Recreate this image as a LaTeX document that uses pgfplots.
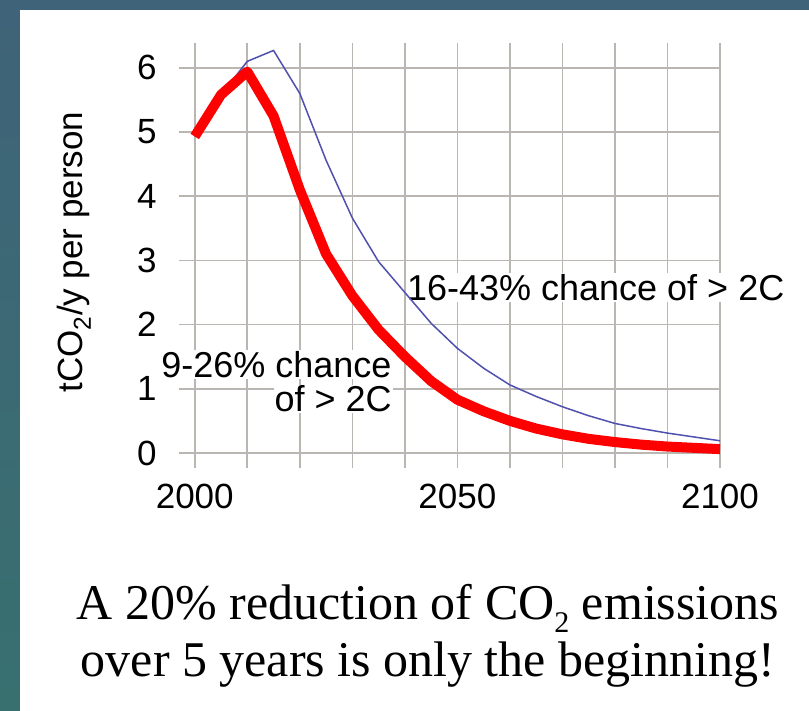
\documentclass[border=0pt]{standalone}
\usepackage{fontspec}
\setmainfont{Liberation Serif}
\newfontfamily\hv{Liberation Sans}
\usepackage{pgfplots}
\pgfplotsset{compat=1.18}
\definecolor{bgtop}{RGB}{63,99,120}
\definecolor{bgbot}{RGB}{56,112,112}
\definecolor{gridgray}{RGB}{186,182,178}
\definecolor{blueline}{RGB}{80,80,175}
\begin{document}
\begin{tikzpicture}
\shade[top color=bgtop,bottom color=bgbot] (0,-3pt) rectangle (812pt,710pt);
\fill[white] (20pt,-3pt) rectangle (812pt,700pt);
\begin{axis}[
  at={(179pt,242pt)}, anchor=south west,
  scale only axis, width=541pt, height=425pt,
  xmin=1997, xmax=2100, ymin=-0.234, ymax=6.386,
  axis line style={draw=none},
  major tick length=0pt,
  xtick={2000,2010,...,2100},
  xticklabels={2000,,,,,2050,,,,,2100},
  ytick={0,1,...,6},
  grid=major,
  grid style={color=gridgray, line width=1.6pt},
  /pgf/number format/assume math mode=true,
  tick label style={font=\hv\fontsize{35}{40}\selectfont},
  xticklabel style={yshift=-13pt},
  yticklabel style={xshift=-19pt},
  clip=false,
]
\node[anchor=base west, fill=white, inner sep=1pt, font=\hv\fontsize{36}{40}\selectfont] at (axis cs:2040.2,2.38) {16-43\% chance of > 2C};
\node[anchor=base east, fill=white, inner sep=1pt, font=\hv\fontsize{36}{40}\selectfont] at (axis cs:2037.7,1.18) {9-26\% chance};
\node[anchor=base east, fill=white, inner sep=1pt, font=\hv\fontsize{36}{40}\selectfont] at (axis cs:2037.7,0.64) {of > 2C};
\addplot[color=blueline, line width=1.5pt, line join=round] coordinates {
(2000,4.93) (2005,5.58) (2010,6.10) (2015,6.27) (2020,5.60) (2025,4.56)
(2030,3.66) (2035,2.98) (2040,2.50) (2045,2.02) (2050,1.63) (2055,1.32)
(2060,1.06) (2065,0.88) (2070,0.72) (2075,0.58) (2080,0.46) (2085,0.38)
(2090,0.31) (2095,0.25) (2100,0.19)
};
\addplot[color=red, line width=10pt, line join=round] coordinates {
(2000,4.93) (2005,5.58) (2010,5.94) (2015,5.25) (2020,4.10) (2025,3.10)
(2030,2.45) (2035,1.92) (2040,1.50) (2045,1.12) (2050,0.83) (2055,0.65)
(2060,0.50) (2065,0.38) (2070,0.29) (2075,0.22) (2080,0.17) (2085,0.13)
(2090,0.10) (2095,0.08) (2100,0.06)
};
\end{axis}
\node[rotate=90, font=\hv\fontsize{35}{40}\selectfont] at (74pt,458pt) {tCO\textsubscript{2}/y per person};
\node[anchor=base, font=\fontsize{50}{56}\selectfont] at (428pt,90pt) {A 20\% reduction of CO\raisebox{-13pt}{\fontsize{30}{30}\selectfont 2} emissions};
\node[anchor=base, font=\fontsize{50}{56}\selectfont] at (428pt,34pt) {over 5 years is only the beginning!};
\pgfresetboundingbox
\useasboundingbox (0,0) rectangle (809pt,710pt);
\end{tikzpicture}
\end{document}
